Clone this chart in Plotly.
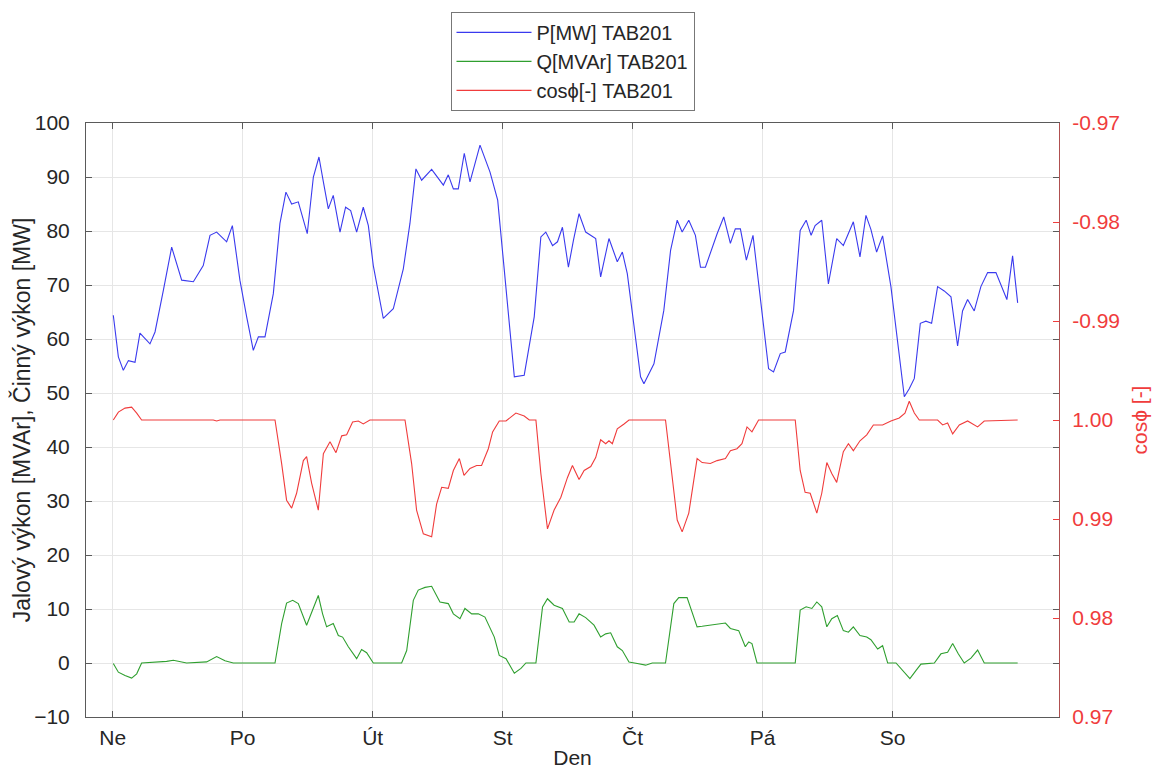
import plotly.graph_objects as go

# ---- data (x in days since Sunday 00:00) ----
day_ticks = [0, 1, 2, 3, 4, 5, 6]
day_labels = ["Ne", "Po", "Út", "St", "Čt", "Pá", "So"]

p_day = [0.005, 0.044, 0.082, 0.121, 0.172, 0.210, 0.287, 0.326, 0.390, 0.454, 0.531, 0.621,
         0.697, 0.749, 0.800, 0.877, 0.921, 0.979, 1.031, 1.082, 1.121, 1.172, 1.236, 1.287,
         1.333, 1.377, 1.428, 1.497, 1.544, 1.587, 1.621, 1.659, 1.697, 1.749, 1.792, 1.831,
         1.877, 1.928, 1.967, 2.005, 2.082, 2.159, 2.236, 2.287, 2.333, 2.377, 2.454, 2.544,
         2.582, 2.621, 2.659, 2.705, 2.749, 2.826, 2.903, 2.962, 3.013, 3.051, 3.090, 3.166,
         3.243, 3.294, 3.332, 3.384, 3.422, 3.460, 3.506, 3.545, 3.588, 3.639, 3.716, 3.754,
         3.818, 3.882, 3.921, 3.959, 4.010, 4.061, 4.087, 4.164, 4.240, 4.292, 4.343, 4.381,
         4.432, 4.483, 4.522, 4.560, 4.650, 4.701, 4.752, 4.790, 4.829, 4.875, 4.926, 4.969,
         5.008, 5.046, 5.084, 5.136, 5.174, 5.238, 5.289, 5.335, 5.373, 5.404, 5.455, 5.506,
         5.570, 5.621, 5.698, 5.749, 5.795, 5.833, 5.877, 5.923, 5.987, 6.038, 6.090, 6.128,
         6.167, 6.213, 6.256, 6.300, 6.346, 6.397, 6.449, 6.500, 6.538, 6.577, 6.628, 6.679,
         6.731, 6.795, 6.879, 6.923, 6.962]
p_mw = [64.4, 56.7, 54.2, 56.0, 55.7, 61.1, 59.1, 61.3, 69.0, 77.0, 70.9, 70.6,
        73.6, 79.2, 79.8, 78.0, 81.0, 70.9, 64.1, 57.9, 60.4, 60.4, 68.4, 81.4,
        87.2, 85.0, 85.4, 79.5, 90.0, 93.7, 89.1, 84.1, 86.6, 79.8, 84.4, 83.8,
        79.8, 84.4, 81.0, 73.6, 63.8, 65.6, 73.0, 81.4, 91.5, 89.4, 91.4, 88.5,
        90.4, 87.8, 87.8, 94.4, 89.1, 95.9, 90.9, 85.7, 72.7, 62.8, 53.0, 53.3,
        64.1, 78.9, 79.8, 77.3, 78.0, 80.7, 73.3, 78.3, 83.2, 79.8, 78.6, 71.5,
        78.6, 74.3, 76.1, 72.1, 62.8, 53.0, 51.7, 55.4, 65.3, 76.4, 82.0, 79.8,
        82.0, 79.2, 73.3, 73.3, 79.5, 82.6, 77.7, 80.4, 80.4, 74.6, 79.2, 70.2,
        62.2, 54.5, 53.9, 57.3, 57.6, 65.3, 80.1, 82.0, 79.2, 81.0, 82.0, 70.2,
        78.6, 77.3, 81.7, 75.2, 82.9, 80.3, 76.1, 79.1, 69.7, 59.9, 49.3, 50.8,
        52.7, 62.9, 63.3, 62.9, 69.7, 68.9, 67.8, 58.7, 65.2, 67.3, 65.2, 69.7,
        72.3, 72.3, 67.3, 75.4, 66.7]

q_day = [0.005, 0.044, 0.095, 0.146, 0.185, 0.223, 0.415, 0.467, 0.569, 0.723, 0.800, 0.864,
         0.928, 1.249, 1.300, 1.338, 1.385, 1.428, 1.492, 1.544, 1.582, 1.615, 1.646, 1.697,
         1.736, 1.769, 1.813, 1.877, 1.915, 1.954, 2.005, 2.223, 2.262, 2.313, 2.351, 2.403,
         2.454, 2.518, 2.582, 2.621, 2.672, 2.710, 2.762, 2.813, 2.864, 2.936, 2.974, 3.026,
         3.090, 3.141, 3.179, 3.256, 3.307, 3.345, 3.396, 3.460, 3.512, 3.550, 3.588, 3.639,
         3.703, 3.754, 3.793, 3.831, 3.882, 3.921, 3.972, 4.036, 4.100, 4.151, 4.253, 4.317,
         4.355, 4.419, 4.496, 4.535, 4.598, 4.650, 4.714, 4.752, 4.816, 4.867, 4.893, 4.918,
         4.957, 5.251, 5.289, 5.335, 5.379, 5.417, 5.455, 5.494, 5.532, 5.575, 5.621, 5.660,
         5.698, 5.749, 5.801, 5.833, 5.885, 5.923, 5.962, 6.026, 6.077, 6.133, 6.179, 6.218,
         6.321, 6.372, 6.423, 6.462, 6.505, 6.551, 6.603, 6.654, 6.705, 6.962]
q_mvar = [-0.1, -1.7, -2.3, -2.8, -2.0, 0.0, 0.3, 0.5, 0.0, 0.2, 1.2, 0.4,
          0.0, 0.0, 7.3, 11.1, 11.6, 11.0, 7.0, 10.4, 12.5, 9.1, 6.7, 7.3,
          5.1, 4.8, 3.0, 0.8, 2.5, 1.9, 0.0, 0.0, 2.3, 11.6, 13.5, 14.0,
          14.2, 11.3, 11.0, 9.1, 8.2, 10.1, 9.1, 9.1, 8.5, 4.8, 1.4, 0.8,
          -1.9, -1.0, 0.0, 0.0, 10.4, 11.9, 10.7, 10.1, 7.6, 7.6, 9.1, 8.4,
          7.0, 4.8, 5.4, 5.6, 3.0, 2.3, 0.2, -0.1, -0.4, 0.0, 0.0, 11.0,
          12.1, 12.1, 6.7, 6.8, 7.0, 7.3, 7.4, 6.4, 6.0, 3.0, 3.9, 3.6,
          0.0, 0.0, 9.8, 10.4, 10.1, 11.3, 10.4, 6.7, 8.2, 8.8, 6.0, 5.7,
          6.7, 5.1, 4.8, 4.3, 2.6, 3.2, 0.0, 0.0, -1.4, -2.9, -1.4, -0.2,
          0.0, 1.7, 2.0, 3.6, 1.7, 0.0, 0.9, 2.4, 0.0, 0.0]

# cos(phi) on the right axis scale: values above 1.00 are shown as negative (-0.99 ... -0.97)
c_day = [0.005, 0.044, 0.095, 0.146, 0.185, 0.223, 0.774, 0.800, 0.826, 1.249, 1.300, 1.338,
         1.377, 1.415, 1.467, 1.492, 1.531, 1.582, 1.621, 1.672, 1.718, 1.762, 1.800, 1.846,
         1.890, 1.928, 1.979, 2.249, 2.300, 2.338, 2.390, 2.454, 2.492, 2.531, 2.582, 2.621,
         2.667, 2.703, 2.749, 2.800, 2.838, 2.890, 2.923, 2.974, 3.026, 3.102, 3.166, 3.205,
         3.256, 3.294, 3.345, 3.396, 3.448, 3.499, 3.537, 3.588, 3.627, 3.678, 3.716, 3.754,
         3.793, 3.818, 3.844, 3.882, 3.934, 3.972, 4.253, 4.304, 4.343, 4.381, 4.432, 4.496,
         4.535, 4.598, 4.650, 4.714, 4.752, 4.803, 4.841, 4.880, 4.918, 4.969, 5.251, 5.289,
         5.327, 5.366, 5.417, 5.455, 5.494, 5.532, 5.570, 5.621, 5.660, 5.698, 5.749, 5.801,
         5.852, 5.923, 5.987, 6.051, 6.095, 6.128, 6.167, 6.205, 6.346, 6.385, 6.423, 6.462,
         6.513, 6.577, 6.654, 6.705, 6.962]
c_val = [1.0000, 1.0008, 1.0012, 1.0013, 1.0007, 1.0000, 1.0000, 0.9999, 1.0000, 1.0000, 0.9956, 0.9919,
         0.9911, 0.9926, 0.9959, 0.9963, 0.9936, 0.9909, 0.9966, 0.9978, 0.9967, 0.9984, 0.9985, 0.9998,
         0.9999, 0.9996, 1.0000, 1.0000, 0.9956, 0.9909, 0.9885, 0.9882, 0.9915, 0.9932, 0.9931, 0.9949,
         0.9961, 0.9944, 0.9951, 0.9954, 0.9954, 0.9971, 0.9988, 0.9999, 0.9999, 1.0007, 1.0004, 1.0000,
         1.0000, 0.9946, 0.9890, 0.9909, 0.9922, 0.9942, 0.9954, 0.9940, 0.9949, 0.9953, 0.9962, 0.9980,
         0.9976, 0.9979, 0.9976, 0.9991, 0.9996, 1.0000, 1.0000, 0.9939, 0.9899, 0.9887, 0.9906, 0.9961,
         0.9957, 0.9956, 0.9959, 0.9961, 0.9969, 0.9971, 0.9976, 0.9993, 0.9988, 1.0000, 1.0000, 0.9949,
         0.9927, 0.9926, 0.9906, 0.9926, 0.9957, 0.9946, 0.9937, 0.9968, 0.9976, 0.9969, 0.9979, 0.9985,
         0.9995, 0.9995, 0.9999, 1.0002, 1.0007, 1.0019, 1.0007, 1.0000, 1.0000, 0.9995, 0.9997, 0.9986,
         0.9995, 0.9999, 0.9993, 0.9999, 1.0000]

y_ticks = [-10, 0, 10, 20, 30, 40, 50, 60, 70, 80, 90, 100]
y2_ticks = [0.97, 0.98, 0.99, 1.00, 1.01, 1.02, 1.03]
y2_labels = ["0.97", "0.98", "0.99", "1.00", "-0.99", "-0.98", "-0.97"]

# ---- styling ----
FONT = "Liberation Sans, Arial, Helvetica, sans-serif"
FS = 21
FRAME = "#5a5a5a"
GRID = "#e6e6e6"
RED = "#f03c3c"

fig = go.Figure()
fig.add_trace(go.Scatter(x=p_day, y=p_mw, mode="lines", name="P[MW] TAB201",
                         line=dict(color="#3a3aee", width=1.1)))
fig.add_trace(go.Scatter(x=q_day, y=q_mvar, mode="lines", name="Q[MVAr] TAB201",
                         line=dict(color="#2f9f2f", width=1.1)))
fig.add_trace(go.Scatter(x=c_day, y=c_val, mode="lines", name="cosϕ[-] TAB201",
                         line=dict(color=RED, width=1.1), yaxis="y2"))

# the page adds an 8 px body margin, so the figure is 8 px smaller than the window
fig.update_layout(
    width=1152, height=765, autosize=False,
    margin=dict(l=78, r=101, t=115, b=56, pad=0, autoexpand=False),
    paper_bgcolor="white", plot_bgcolor="white",
    font=dict(family=FONT, size=FS, color="#262626"),
    showlegend=True,
    legend=dict(x=0.5, xanchor="center", y=1.187, yanchor="top",
                bgcolor="white", bordercolor="#777777", borderwidth=1,
                font=dict(family=FONT, size=20, color="#262626"),
                tracegroupgap=0, itemwidth=75),
    xaxis=dict(range=[-0.205, 7.28], tickmode="array", tickvals=day_ticks, ticktext=day_labels,
               automargin=False,
               showgrid=True, gridcolor=GRID, gridwidth=1, zeroline=False,
               showline=True, linecolor=FRAME, linewidth=1, mirror="ticks",
               ticks="inside", ticklen=6, tickcolor=FRAME, ticklabelstandoff=2,
               title=dict(text="Den", standoff=2, font=dict(size=FS))),
    yaxis=dict(range=[-10, 100], tickmode="array", tickvals=y_ticks,
               automargin=False,
               showgrid=True, gridcolor=GRID, gridwidth=1, zeroline=False,
               showline=True, linecolor=FRAME, linewidth=1, mirror="ticks",
               ticks="inside", ticklen=6, tickcolor=FRAME, ticklabelstandoff=11,
               title=dict(text="Jalový výkon [MVAr], Činný výkon [MW]", standoff=6,
                          font=dict(size=FS + 2))),
    yaxis2=dict(range=[0.97, 1.03], overlaying="y", side="right", anchor="x",
                automargin=False,
                tickmode="array", tickvals=y2_ticks, ticktext=y2_labels,
                showgrid=False, zeroline=False,
                showline=True, linecolor="#b05050", linewidth=1,
                ticks="inside", ticklen=6, tickcolor=RED, ticklabelstandoff=8,
                tickfont=dict(color=RED, size=FS),
                title=dict(text="cosϕ [-]", standoff=13, font=dict(color=RED, size=FS))),
)

fig.write_html("out.html")
